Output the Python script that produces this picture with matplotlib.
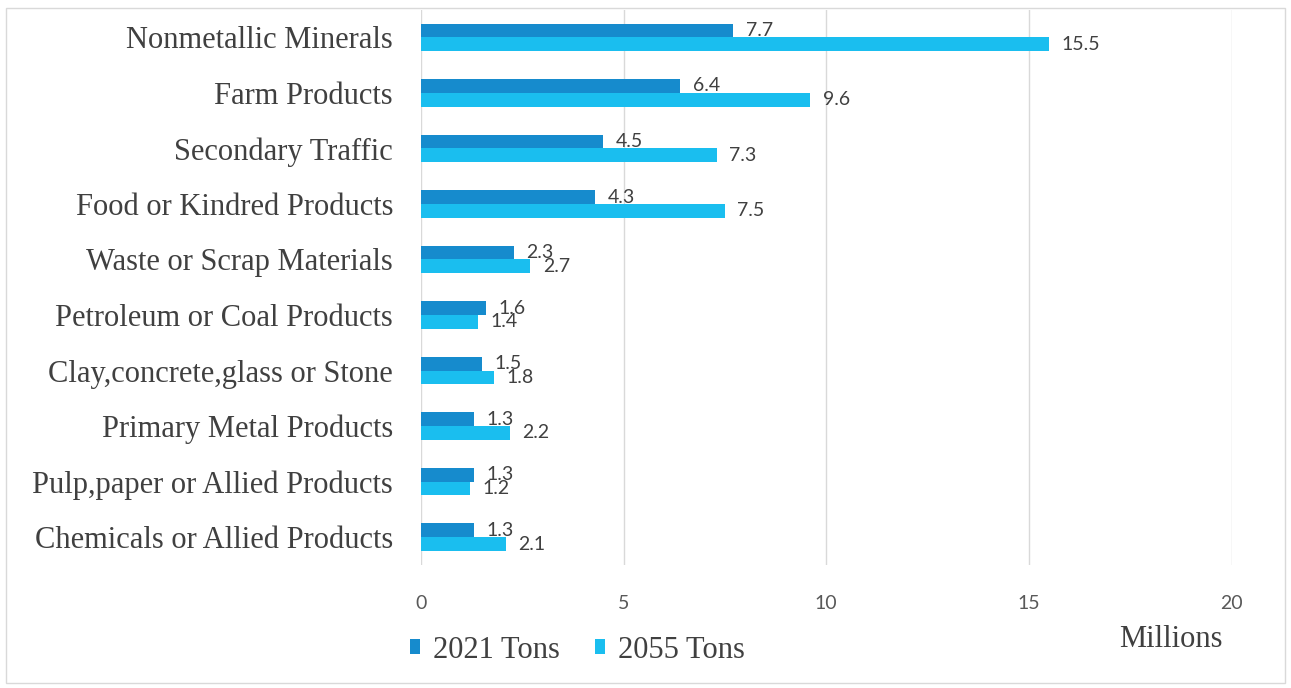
import numpy as np
import matplotlib.pyplot as plt
from matplotlib.patches import Rectangle

categories = ["Nonmetallic Minerals", "Farm Products", "Secondary Traffic",
              "Food or Kindred Products", "Waste or Scrap Materials",
              "Petroleum or Coal Products", "Clay,concrete,glass or Stone",
              "Primary Metal Products", "Pulp,paper or Allied Products",
              "Chemicals or Allied Products"]
tons_2021 = [7.7, 6.4, 4.5, 4.3, 2.3, 1.6, 1.5, 1.3, 1.3, 1.3]
tons_2055 = [15.5, 9.6, 7.3, 7.5, 2.7, 1.4, 1.8, 2.2, 1.2, 2.1]
series_names = ["2021 Tons", "2055 Tons"]
xticks = [0, 5, 10, 15, 20]

c_dark = "#168BCD"
c_light = "#1ABEEF"
serif = ["Liberation Serif", "DejaVu Serif"]
sans = ["Lato", "DejaVu Sans"]

fig = plt.figure(figsize=(12.91, 6.88), dpi=100)
ax = fig.add_axes([0.326, 0.179, 0.628, 0.807])

y = np.arange(len(categories))
h = 0.25
b1 = ax.barh(y - h / 2, tons_2021, height=h, color=c_dark, label=series_names[0], zorder=3)
b2 = ax.barh(y + h / 2, tons_2055, height=h, color=c_light, label=series_names[1], zorder=3)

for bars, vals in [(b1, tons_2021), (b2, tons_2055)]:
    for r, v in zip(bars, vals):
        ax.annotate(f"{v:.1f}", (r.get_width(), r.get_y() + r.get_height() / 2),
                    xytext=(9, 0), textcoords="offset points", va="center", ha="left",
                    fontsize=14, color="#404040", family=sans, zorder=4)

ax.set_xlim(0, 20)
ax.set_ylim(len(categories) - 0.5, -0.5)
ax.set_xticks(xticks)
ax.set_xticklabels([str(t) for t in xticks], family=sans, fontsize=14, color="#595959")
ax.set_yticks(y)
ax.set_yticklabels(categories, family=serif, fontsize=22, color="#404040")
ax.tick_params(length=0)
ax.tick_params(axis="x", pad=22)
ax.tick_params(axis="y", pad=20)
ax.grid(axis="x", color="#D9D9D9", linewidth=1, zorder=0)
for s in ax.spines.values():
    s.set_visible(False)

fig.text(0.9467, 0.0698, "Millions", family=serif, fontsize=22, color="#404040", ha="right", va="center")

leg = fig.legend(handles=[b1, b2], labels=series_names, loc="center left",
                 bbox_to_anchor=(0.3176, 0.0552), ncol=2, frameon=False,
                 prop={"family": serif, "size": 22}, labelcolor="#404040",
                 borderpad=0, borderaxespad=0,
                 handlelength=0.33, handleheight=0.4, handletextpad=0.42, columnspacing=1.15)

fig.patches.append(Rectangle((0.005, 0.007), 0.99, 0.981, transform=fig.transFigure,
                             fill=False, edgecolor="#D9D9D9", linewidth=1))

fig.savefig("out.png", dpi=100)
